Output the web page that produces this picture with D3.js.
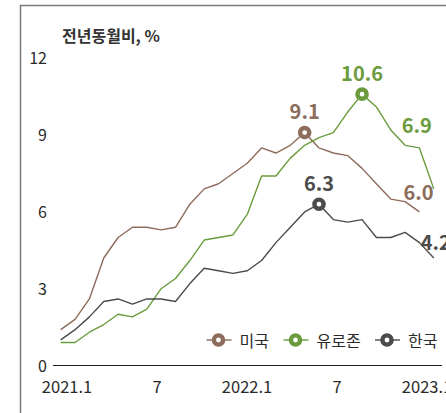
<!DOCTYPE html>
<html>
<head>
<meta charset="utf-8">
<script src="https://cdn.jsdelivr.net/npm/d3@7"></script>
<style>
  html, body { margin: 0; padding: 0; background: #fff; }
  svg { display: block; font-family: "Noto Sans CJK KR", "Noto Sans", sans-serif; }
</style>
</head>
<body>
<div id="chart"></div>
<script>
// months 2021.1 ~ 2023.3
const months = d3.range(27).map(i => `${2021 + Math.floor(i / 12)}.${(i % 12) + 1}`);

const usValues = [1.4, 1.8, 2.6, 4.2, 5.0, 5.4, 5.4, 5.3, 5.4, 6.3, 6.9, 7.1, 7.5,
                  7.9, 8.5, 8.3, 8.6, 9.1, 8.5, 8.3, 8.2, 7.7, 7.1, 6.5, 6.4, 6.0];
const euroValues = [0.9, 0.9, 1.3, 1.6, 2.0, 1.9, 2.2, 3.0, 3.4, 4.1, 4.9, 5.0, 5.1,
                    5.9, 7.4, 7.4, 8.1, 8.6, 8.9, 9.1, 9.9, 10.6, 10.1, 9.2, 8.6, 8.5, 6.9];
const krValues = [1.0, 1.4, 1.9, 2.5, 2.6, 2.4, 2.6, 2.6, 2.5, 3.2, 3.8, 3.7, 3.6,
                  3.7, 4.1, 4.8, 5.4, 6.0, 6.3, 5.7, 5.6, 5.7, 5.0, 5.0, 5.2, 4.8, 4.2];

const seriesNames = ["미국", "유로존", "한국"];
const yTicks = [0, 3, 6, 9, 12];
const xTickLabels = ["2021.1", "7", "2022.1", "7", "2023.1"];
const xTickIndex = [0, 6, 12, 18, 24];

const W = 446, H = 413;
const colors = { "미국": "#8c6c5b", "유로존": "#6b9b3d", "한국": "#4b4b4b" };

const series = [
    { name: "미국", values: usValues, peak: 17 },
    { name: "유로존", values: euroValues, peak: 21 },
    { name: "한국", values: krValues, peak: 18 }
];

const svg = d3.select("#chart").append("svg")
    .attr("width", W)
    .attr("height", H);

// frame (cut off at right / bottom)
svg.append("path")
    .attr("d", `M20.5,${H}V5.5H${W}`)
    .attr("fill", "none")
    .attr("stroke", "#7a7a7a")
    .attr("stroke-width", 1.5);

const x = d3.scaleLinear().domain([0, 26]).range([60.7, 433.8]);
const xLabel = d3.scaleLinear().domain([0, 24]).range([67, 427]);
const y = d3.scaleLinear().domain([0, 12]).range([365.5, 58.3]);

// title
svg.append("text")
    .attr("x", 62)
    .attr("y", 35)
    .attr("dominant-baseline", "central")
    .attr("font-size", 16)
    .attr("font-weight", "bold")
    .attr("fill", "#333")
    .text("전년동월비, %");

// y tick labels
svg.append("g")
    .selectAll("text")
    .data(yTicks)
    .join("text")
    .attr("x", 47)
    .attr("y", d => y(d) - 1)
    .attr("text-anchor", "end")
    .attr("dominant-baseline", "central")
    .attr("font-size", 16)
    .attr("fill", "#2a2a2a")
    .text(d => d);

// x axis line
svg.append("line")
    .attr("x1", 53).attr("x2", 442)
    .attr("y1", y(0)).attr("y2", y(0))
    .attr("stroke", "#222")
    .attr("stroke-width", 1.2);

// x tick labels
svg.append("g")
    .selectAll("text")
    .data(xTickIndex)
    .join("text")
    .attr("x", d => xLabel(d))
    .attr("y", 386)
    .attr("text-anchor", "middle")
    .attr("dominant-baseline", "central")
    .attr("font-size", 16.5)
    .attr("fill", "#2a2a2a")
    .text((d, i) => xTickLabels[i]);

const line = d3.line()
    .x((d, i) => x(i))
    .y(d => y(d));

// lines
svg.append("g")
    .selectAll("path")
    .data(series)
    .join("path")
    .attr("d", d => line(d.values))
    .attr("fill", "none")
    .attr("stroke", d => colors[d.name])
    .attr("stroke-width", 1.4)
    .attr("stroke-linejoin", "round");

// peak markers
svg.append("g")
    .selectAll("circle")
    .data(series)
    .join("circle")
    .attr("cx", d => x(d.peak))
    .attr("cy", d => y(d.values[d.peak]))
    .attr("r", 4.6)
    .attr("fill", "#fff")
    .attr("stroke", d => colors[d.name])
    .attr("stroke-width", 4.4);

// value labels: peaks and last points
const annotations = [];
series.forEach(s => {
    annotations.push({ name: s.name, i: s.peak, dx: 0, dy: -22, anchor: "middle" });
});
annotations.push({ name: "유로존", i: euroValues.length - 1, dx: -17, dy: -64, anchor: "middle" });
annotations.push({ name: "미국", i: usValues.length - 1, dx: -1, dy: -20, anchor: "middle" });
annotations.push({ name: "한국", i: krValues.length - 1, dx: -13, dy: -16, anchor: "start" });

svg.append("g")
    .selectAll("text")
    .data(annotations)
    .join("text")
    .attr("x", d => x(d.i) + d.dx)
    .attr("y", d => {
        const s = series.find(s => s.name === d.name);
        return y(s.values[d.i]) + d.dy;
    })
    .attr("text-anchor", d => d.anchor)
    .attr("dominant-baseline", "central")
    .attr("font-size", 20)
    .attr("font-weight", "bold")
    .attr("fill", d => colors[d.name])
    .text(d => {
        const s = series.find(s => s.name === d.name);
        return s.values[d.i].toFixed(1);
    });

// legend
const legendX = [218.5, 295.5, 387];
const legend = svg.append("g")
    .selectAll("g")
    .data(series)
    .join("g")
    .attr("transform", (d, i) => `translate(${legendX[i]},340)`);

legend.append("line")
    .attr("x1", -12).attr("x2", 13)
    .attr("stroke", d => colors[d.name])
    .attr("stroke-width", 1.4);

legend.append("circle")
    .attr("r", 4.6)
    .attr("fill", "#fff")
    .attr("stroke", d => colors[d.name])
    .attr("stroke-width", 4.4);

legend.append("text")
    .attr("x", 21)
    .attr("y", 0)
    .attr("dominant-baseline", "central")
    .attr("font-size", 16)
    .attr("fill", "#2a2a2a")
    .text(d => d.name);
</script>
</body>
</html>
